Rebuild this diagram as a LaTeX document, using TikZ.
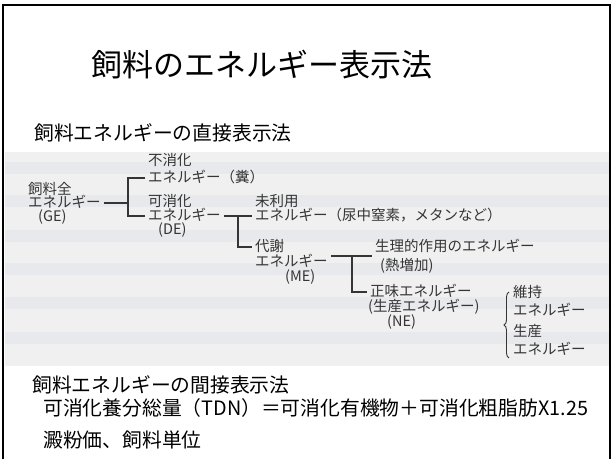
\documentclass[tikz,border=0pt]{standalone}
\usepackage{fontspec}
\setmainfont{Noto Sans CJK JP}
\usetikzlibrary{decorations.pathreplacing}
\definecolor{dtext}{HTML}{353535}
\definecolor{bgscan}{HTML}{F0F0F0}
\definecolor{band}{HTML}{E8E9EC}
\begin{document}
\begin{tikzpicture}[x=1pt,y=-1pt,
  ttl/.style={inner sep=0pt, font=\fontsize{31}{36}\selectfont},
  hd/.style={anchor=west, inner sep=0pt, font=\fontsize{19.8}{24}\selectfont},
  dg/.style={anchor=west, inner xsep=3pt, inner ysep=0pt, text height=10pt, text depth=1pt, text=dtext, font=\fontsize{14.5}{16}\selectfont},
  ln/.style={draw=dtext, line width=1.1pt},
  frm/.style={line width=2pt}]
\useasboundingbox (0,0) rectangle (613,459);
% scanned figure background
\fill[bgscan] (5,152) rectangle (609,366);
\foreach \yy in {168,201,236,269,303,338}{
  \fill[band] (5,\yy-6) rectangle (609,\yy+6);
}
% frame
\draw[frm] (3,459) -- (3,5) -- (610,5) -- (610,459);
% title and texts
\node[ttl] (title) at (262,65) {飼料のエネルギー表示法};
\node[hd] (h1) at (34,133) {飼料エネルギーの直接表示法};
\node[hd] (h2) at (32,385) {飼料エネルギーの間接表示法};
\node[hd] (l1) at (43,408) {可消化養分総量（TDN）＝可消化有機物＋可消化粗脂肪X1.25};
\node[hd] (l2) at (43,440) {澱粉価、飼料単位};
% diagram
\node[dg] (ge1) at (25,190) {飼料全};
\node[dg] (ge2) at (25,203) {エネルギー};
\node[dg] (ge3) at (35,217) {(GE)};
\node[dg] (nd1) at (145,161) {不消化};
\node[dg] (nd2) at (145,178) {エネルギー（糞）};
\node[dg] (de1) at (145,202) {可消化};
\node[dg] (de2) at (145,216) {エネルギー};
\node[dg] (de3) at (155,230) {(DE)};
\node[dg] (mr1) at (252,202) {未利用};
\node[dg] (mr2) at (252,216) {エネルギー（尿中窒素，メタンなど）};
\node[dg] (me1) at (252,247) {代謝};
\node[dg] (me2) at (252,262) {エネルギー};
\node[dg] (me3) at (282,277) {(ME)};
\node[dg] (pe1) at (372,247) {生理的作用のエネルギー};
\node[dg] (pe2) at (377,266) {(熱増加)};
\node[dg] (ne1) at (367,292) {正味エネルギー};
\node[dg] (ne2) at (365,307) {(生産エネルギー)};
\node[dg] (ne3) at (384,322) {(NE)};
\node[dg] (mt1) at (510,293) {維持};
\node[dg] (mt2) at (510,311) {エネルギー};
\node[dg] (pr1) at (510,332) {生産};
\node[dg] (pr2) at (510,350) {エネルギー};
% connectors
\coordinate (j1) at (128,0);
\coordinate (j2) at (238,0);
\coordinate (j3) at (352,256);
\draw[ln] (ge2.east) -- (ge2.east -| j1);
\draw[ln] (nd2.west) -| (j1 |- ge2.east) |- (de2.west);
\draw[ln] (de2.east) -- (mr2.west);
\draw[ln] (j2 |- de2.east) |- (me1.west);
\draw[ln] (me2.east |- j3) -- (pe1.west |- j3);
\draw[ln] (j3) |- (ne1.west);
\draw[dtext, line width=0.9pt, decorate, decoration={brace, amplitude=5pt}] (509,358) -- (509,292);
\end{tikzpicture}
\end{document}
